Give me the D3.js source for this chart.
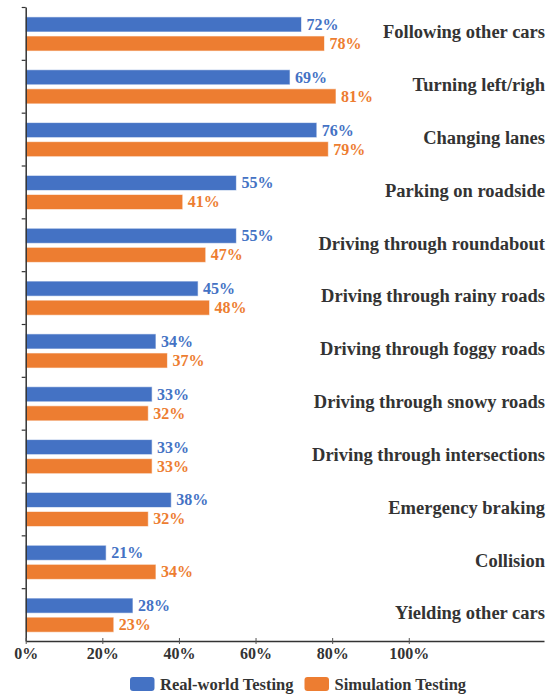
<!DOCTYPE html>
<html>
<head>
<meta charset="utf-8">
<script src="https://cdn.jsdelivr.net/npm/d3@7"></script>
<style>
  body { margin: 0; background: #fff; }
</style>
</head>
<body>
<svg id="chart" width="553" height="694"></svg>
<script>
// chart data
var categories = ["Following other cars", "Turning left/righ", "Changing lanes", "Parking on roadside",
  "Driving through roundabout", "Driving through rainy roads", "Driving through foggy roads",
  "Driving through snowy roads", "Driving through intersections", "Emergency braking",
  "Collision", "Yielding other cars"];
var realWorld = [72, 69, 76, 55, 55, 45, 34, 33, 33, 38, 21, 28];
var simulation = [78, 81, 79, 41, 47, 48, 37, 32, 33, 32, 34, 23];
var seriesNames = ["Real-world Testing", "Simulation Testing"];
var tickValues = [0, 20, 40, 60, 80, 100];

var colors = ["#4472C4", "#ED7D31"];
var serif = "'Liberation Serif', 'Times New Roman', Times, serif";

var svg = d3.select("#chart");

var x = d3.scaleLinear()
    .domain([0, 135.3])
    .range([25.7, 544]);

var y = d3.scaleBand()
    .domain(categories)
    .range([7, 641])
    .padding(0);

var ySub = d3.scaleBand()
    .domain(seriesNames)
    .range([0, y.bandwidth()])
    .paddingInner(0.21)
    .paddingOuter(0.49)
    .align(0.53);

// build rows
var rows = [];
categories.forEach(function(c, i) {
    rows.push({ cat: c, series: seriesNames[0], value: realWorld[i], k: 0 });
    rows.push({ cat: c, series: seriesNames[1], value: simulation[i], k: 1 });
});

// bars
svg.selectAll(".bar")
    .data(rows)
    .enter()
    .append("rect")
    .attr("class", "bar")
    .attr("x", x(0))
    .attr("y", function(d) { return y(d.cat) + ySub(d.series); })
    .attr("width", function(d) { return x(d.value) - x(0); })
    .attr("height", ySub.bandwidth())
    .attr("fill", function(d) { return colors[d.k]; })
    .attr("stroke", "#fff")
    .attr("stroke-opacity", 0.6)
    .attr("stroke-width", 1);

// value labels
svg.selectAll(".val")
    .data(rows)
    .enter()
    .append("text")
    .attr("class", "val")
    .attr("x", function(d) { return x(d.value) + 5; })
    .attr("y", function(d) { return y(d.cat) + ySub(d.series) + ySub.bandwidth() / 2; })
    .attr("dy", "0.34em")
    .style("font-family", serif)
    .style("font-weight", "bold")
    .style("font-size", "16px")
    .attr("fill", function(d) { return colors[d.k]; })
    .text(function(d) { return d.value + "%"; });

// category labels on the right
svg.selectAll(".cat")
    .data(categories)
    .enter()
    .append("text")
    .attr("class", "cat")
    .attr("x", 545)
    .attr("y", function(d) { return y(d) + y.bandwidth() / 2; })
    .attr("dy", "0.26em")
    .attr("text-anchor", "end")
    .style("font-family", serif)
    .style("font-weight", "bold")
    .style("font-size", "18.5px")
    .attr("fill", "#333")
    .text(function(d) { return d; });

// left axis, ticks at band edges
var yEdge = d3.scaleLinear().domain([0, categories.length]).range(y.range());
var leftAxis = svg.append("g")
    .attr("transform", "translate(" + x(0) + ",0)")
    .call(d3.axisLeft(yEdge).tickValues(d3.range(categories.length)).tickFormat("").tickSizeInner(4).tickSizeOuter(0));
leftAxis.select(".domain").attr("stroke", "#333").attr("stroke-width", 1.5);
leftAxis.selectAll(".tick line").attr("stroke", "#333").attr("stroke-width", 1.2);

// bottom axis
var bottomAxis = svg.append("g")
    .attr("transform", "translate(0," + y.range()[1] + ")")
    .call(d3.axisBottom(x).tickValues(tickValues).tickFormat(function(d) { return d + "%"; }).tickSizeOuter(0).tickSizeInner(3));
bottomAxis.select(".domain").attr("stroke", "#333").attr("stroke-width", 1.5);
bottomAxis.selectAll(".tick line").attr("y1", -3).attr("stroke", "#555");
bottomAxis.selectAll(".tick text")
    .attr("y", 18)
    .attr("dy", null)
    .style("font-family", serif)
    .style("font-weight", "bold")
    .style("font-size", "16px")
    .attr("fill", "#333");

// legend
var legend = svg.append("g").attr("class", "legend");
var legendX = [130, 304.5];
seriesNames.forEach(function(s, i) {
    legend.append("rect")
        .attr("x", legendX[i])
        .attr("y", 677)
        .attr("width", 24.5)
        .attr("height", 14)
        .attr("rx", 3)
        .attr("fill", colors[i]);
    legend.append("text")
        .attr("x", legendX[i] + 30)
        .attr("y", 690)
        .style("font-family", serif)
        .style("font-weight", "bold")
        .style("font-size", "16.5px")
        .attr("fill", "#333")
        .text(s);
});
</script>
</body>
</html>
